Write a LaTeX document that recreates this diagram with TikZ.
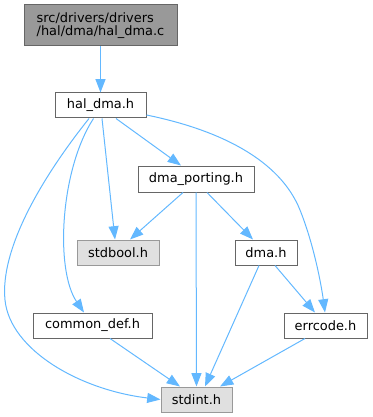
\documentclass[tikz,border=0pt]{standalone}
\usepackage{fontspec}
\setmainfont{DejaVu Sans}
\usetikzlibrary{arrows.meta,calc}
\definecolor{Edge}{HTML}{63B8FF}
\definecolor{Frame}{HTML}{666666}
\definecolor{RootFill}{HTML}{999999}
\definecolor{ExtFill}{HTML}{E0E0E0}
\definecolor{ExtFrame}{HTML}{999999}

\begin{document}
\begin{tikzpicture}[
  x=0.75pt, y=-0.75pt,
  box/.style={
    draw=Frame,
    fill=white,
    line width=0.75pt,
    inner sep=0pt,
    font=\fontsize{9.7}{9.8}\selectfont,
    minimum height=18.75pt
  },
  rootbox/.style={box, fill=RootFill, align=left},
  extbox/.style={box, fill=ExtFill, draw=ExtFrame},
  arr/.style={-{Triangle[length=10pt,width=7.5pt]}, line width=0.75pt, draw=Edge}
]
\useasboundingbox (0,0) rectangle (373,417);

% files
\node[rootbox, minimum width=114.75pt, minimum height=30.5pt] (halc) at (100.5,25.3) {src/drivers/drivers\\/hal/dma/hal\_dma.c};
\node[box, minimum width=68.25pt] (halh) at (100.5,105.5) {hal\_dma.h};
\node[box, minimum width=87pt, minimum height=19.5pt] (porting) at (196,179) {dma\_porting.h};
\node[extbox, minimum width=61.5pt] (stdbool) at (118,252.5) {stdbool.h};
\node[box, minimum width=46.5pt] (dmah) at (266,252.5) {dma.h};
\node[box, minimum width=89.25pt] (common) at (92.5,325.5) {common\_def.h};
\node[box, minimum width=62.25pt] (errcode) at (325.5,325.5) {errcode.h};
\node[extbox, minimum width=53.25pt] (stdint) at (196.5,399.5) {stdint.h};

% includes
\draw[arr] (halc) -- (halh);
\draw[arr] ($(halh.south)+(15.5,0)$) -- ($(porting.north)+(-15,0)$);
\draw[arr] ($(halh.south)+(1.5,0)$) -- ($(stdbool.north)+(-3,0)$);
\draw[arr] ($(halh.south)+(-7,0)$) .. controls (60,170) and (55,270) .. ($(common.north)+(-8.5,0)$);
\draw[arr] ($(halh.south)+(-11.5,0)$) .. controls (40,180) and (0,250) .. (5,300) .. controls (10,350) and (80,390) .. (stdint.west);
\draw[arr] ($(halh.east)+(0,9.5)$) .. controls (220,130) and (280,160) .. (300,210) .. controls (315,247.5) and (322,290) .. ($(errcode.north)+(-0.5,0)$);
\draw[arr] ($(porting.south)+(-13,0)$) -- ($(stdbool.north)+(12,0)$);
\draw[arr] (porting) -- (stdint);
\draw[arr] ($(porting.south)+(11,0)$) -- ($(dmah.north)+(-13,0)$);
\draw[arr] ($(dmah.south)+(-7,0)$) -- ($(stdint.north)+(8.5,0)$);
\draw[arr] ($(dmah.south)+(9,0)$) -- ($(errcode.north)+(-10.5,0)$);
\draw[arr] ($(common.south)+(17.5,0)$) -- ($(stdint.north)+(-16.5,0)$);
\draw[arr] ($(errcode.south)+(-20.5,0)$) -- ($(stdint.north)+(23.5,0)$);
\end{tikzpicture}
\end{document}
